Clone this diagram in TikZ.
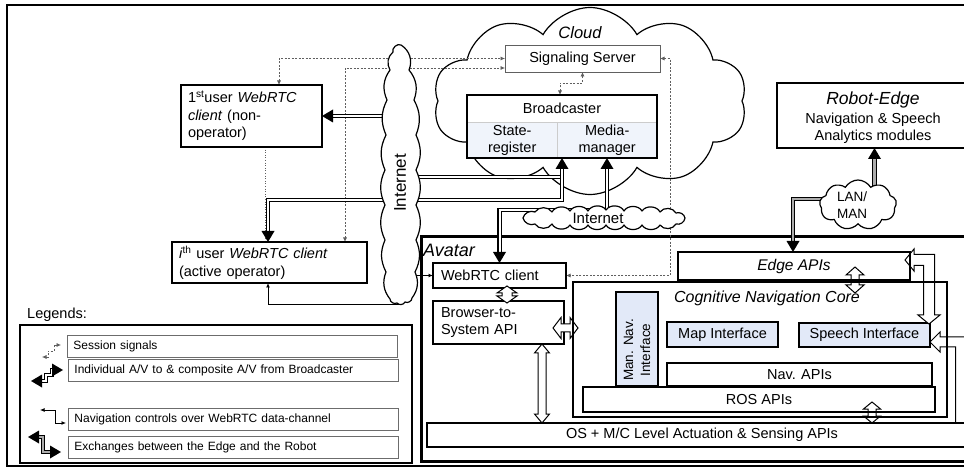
\documentclass[tikz,border=0pt]{standalone}
\usepackage{fontspec}
\setmainfont{Liberation Sans}
\usetikzlibrary{shapes.symbols,arrows.meta,calc}
\pgfdeclarelayer{back}
\pgfdeclarelayer{mid}
\pgfsetlayers{back,mid,main}
\definecolor{lb}{RGB}{226,233,248}
\definecolor{lb2}{RGB}{240,244,251}
\definecolor{sg}{RGB}{95,95,95}
\newcommand\fsz[2]{\fontsize{#1}{#2}\selectfont}
\tikzset{
  stip/.tip={Latex[length=4.5pt,width=4pt]},
  box/.style={draw, line width=#1, fill=white, inner sep=0pt, outer sep=0pt, anchor=north west, align=center, font=\fsz{14.5}{17.5}},
  box/.default=1.2pt,
  lrow/.style={draw=gray!85!black, line width=0.9pt, fill=white, anchor=north west, minimum height=21.5pt, text width=318pt, inner xsep=6pt, inner ysep=0pt, align=left, font=\fsz{12}{14}},
  sigl/.style={line width=0.7pt, color=sg, dash pattern=on 2pt off 1.5pt},
  dotl/.style={line width=0.8pt, color=sg, dash pattern=on 0.8pt off 1.8pt},
  avl/.style={line width=1.1pt, double=white, double distance=2pt},
  edgl/.style={line width=1.1pt, double=gray!65, double distance=2.4pt},
  navl/.style={line width=0.9pt},
  holl/.style={line width=1pt, fill=white, line join=miter},
  cloudsh/.style={cloud, draw, fill=white, line width=1.2pt, cloud ignores aspect, inner sep=0pt},
  pics/bhead/.style={code={\fill (0,0) -- (-11,6.5) -- (-11,-6.5) -- cycle;}},
  pics/hdbl/.style n args={4}{code={
     \draw[holl] (0,0) -- ({#2},{#3}) -- ({#2},{#4}) -- ({#1-#2},{#4}) -- ({#1-#2},{#3}) -- ({#1},0)
       -- ({#1-#2},{-#3}) -- ({#1-#2},{-#4}) -- ({#2},{-#4}) -- ({#2},{-#3}) -- cycle;}},
}
\begin{document}
\begin{tikzpicture}[x=1pt,y=-1pt, every node/.append style={inner sep=0pt}]
\useasboundingbox (0,0) rectangle (964,470);
\begin{pgfonlayer}{back}
\draw[line width=2pt] (7,5) rectangle (990,466);
\node[cloudsh, cloud puffs=10, cloud puff arc=120, minimum width=314pt, minimum height=187pt] (cloud) at (590,101) {};
\node[box=3pt, minimum width=570pt, minimum height=224pt] (avatar) at (421,237) {};
\end{pgfonlayer}

% titles
\node[font=\fsz{16.5}{20}\itshape] (cloudt) at (580,33) {Cloud};
\node[anchor=west, font=\fsz{18}{21}\itshape] (avt) at (423,250) {Avatar};

% legend
\node[box=2pt, minimum width=392pt, minimum height=138pt] (legend) at (20,325) {};
\node[anchor=west, font=\fsz{14.5}{17}] (legt) at (27,315) {Legends:};
\node[lrow] (lr1) at (67,335) {Session signals};
\node[lrow] (lr2) at (68,359) {Individual A/V to \& composite A/V from Broadcaster};
\node[lrow] (lr3) at (68,408) {Navigation controls over WebRTC data-channel};
\node[lrow] (lr4) at (68,436) {Exchanges between the Edge and the Robot};

% avatar content
\node[box, minimum width=133pt, minimum height=25pt, text width=117pt, inner xsep=8pt, align=left] (web) at (433,263) {WebRTC client};
\node[box, minimum height=43pt, text width=115pt, inner xsep=8pt, align=left] (b2s) at (433,301) {Browser-to-\\System API};
\node[box, minimum width=550pt, minimum height=24pt] (os) at (427,423) {OS + M/C Level Actuation \& Sensing APIs};
\node[box=2.5pt, minimum width=374pt, minimum height=135pt] (core) at (573,282) {};
\node[font=\fsz{16}{19}\itshape] (coret) at (767,298) {Cognitive Navigation Core};
\node[box, minimum width=232pt, minimum height=28pt, font=\fsz{15.5}{18}\itshape] (edge) at (678,252) {Edge APIs};
\node[box, fill=lb, minimum width=42pt, minimum height=94pt] (mannav) at (616,292) {};
\node[rotate=90, font=\fsz{13.5}{17}, align=center] (mannavt) at (637,350) {Man. Nav.\\Interface};
\node[box, fill=lb, minimum width=111pt, minimum height=25pt] (map) at (667,322) {Map Interface};
\node[box, fill=lb, minimum width=131pt, minimum height=24pt] (speech) at (799,323) {Speech Interface};
\node[box, minimum width=265pt, minimum height=23pt] (nav) at (667,363) {Nav. APIs};
\node[box, minimum width=352pt, minimum height=25pt] (ros) at (583,387) {ROS APIs};

% clouds
\node[minimum width=36pt, minimum height=258pt] (inet) at (400,175) {};
\draw[line width=1.2pt, fill=white, line join=round]
 (401,45) to[bend left=40] (409,70) to[bend left=30] (414,100) to[bend left=25] (416,135)
 to[bend left=25] (416,170) to[bend left=25] (416,205) to[bend left=25] (416,240)
 to[bend left=25] (415,272) to[bend left=30] (412,298) to[bend left=60] (405,302)
 to[bend left=60] (397,303) to[bend left=60] (390,299) to[bend left=30] (386,272)
 to[bend left=25] (385,240) to[bend left=25] (385,205) to[bend left=25] (385,170)
 to[bend left=25] (386,135) to[bend left=25] (387,100) to[bend left=30] (390,70)
 to[bend left=40] (393,52) to[bend left=70] (401,45) -- cycle;
\node[rotate=90, font=\fsz{17}{20}] (inett) at (400,183) {Internet};
\node[minimum width=162pt, minimum height=22pt] (inet2) at (604,217) {};
\draw[line width=1.2pt, fill=white, line join=round]
 (523,218) to[bend left=50] (535,212) to[bend left=60] (552,212) to[bend left=60] (570,211)
 to[bend left=60] (588,211) to[bend left=60] (606,210) to[bend left=60] (624,211)
 to[bend left=60] (642,211) to[bend left=60] (660,212) to[bend left=60] (676,213)
 to[bend left=50] (685,218) to[bend left=50] (676,224) to[bend left=60] (660,225)
 to[bend left=60] (642,225) to[bend left=60] (624,225) to[bend left=60] (606,225)
 to[bend left=60] (588,225) to[bend left=60] (570,225) to[bend left=60] (552,224)
 to[bend left=60] (535,224) to[bend left=50] (523,218) -- cycle;
\node[font=\fsz{15}{18}] (inet2t) at (598,218) {Internet};
\node[cloudsh, cloud puffs=9, cloud puff arc=120, minimum width=77pt, minimum height=50pt] (lan) at (858,205) {};
\node[align=center, font=\fsz{13.5}{17}] (lant) at (852,205) {LAN/\\MAN};

% clients, cloud boxes, robot
\node[box=1.5pt, minimum width=141pt, minimum height=62pt, text width=127pt, inner xsep=7pt, align=left] (user1) at (181,85) {1\textsuperscript{st}user \textit{WebRTC}\\\textit{client} (non-\\operator)};
\node[box=1.5pt, minimum height=41pt, text width=181pt, inner xsep=7pt, align=left] (useri) at (172,242) {\textit{i}\textsuperscript{th} user \textit{WebRTC client}\\(active operator)};
\node[box=0.9pt, draw=gray!75!black, minimum width=155pt, minimum height=27pt] (sig) at (505,45) {Signaling Server};
\node[box=2pt, minimum width=190pt, minimum height=63pt] (bc) at (467,95) {};
\node[anchor=north west, draw=gray!40, fill=lb2, minimum width=90pt, minimum height=36pt, align=center, font=\fsz{14.5}{17.5}] (sreg) at (467,122) {State-\\register};
\node[anchor=north west, draw=gray!40, fill=lb2, minimum width=100pt, minimum height=36pt, align=center, font=\fsz{14.5}{17.5}] (mman) at (557,122) {Media-\\manager};
\draw[line width=2pt] (bc.north west) rectangle (bc.south east);
\node[font=\fsz{14.5}{17.5}] (bct) at (562,108) {Broadcaster};
\node[box=2.5pt, minimum width=195pt, minimum height=65pt] (robot) at (777,83) {};
\node[font=\fsz{17.5}{20}\itshape] (rt1) at (873,100) {Robot-Edge};
\node[font=\fsz{14.5}{17}] (rt2) at (873,120) {Navigation \& Speech};
\node[font=\fsz{14.5}{17}] (rt3) at (873,137) {Analytics modules};

% connectors
\begin{pgfonlayer}{mid}
\draw[sigl, stip-stip] ([xshift=27.5pt]user1.north) |- (sig.west);
\draw[sigl, stip-stip] ([xshift=75.5pt]useri.north) |- ([yshift=-9.5pt]sig.west);
\draw[sigl, stip-stip] (sig.east) -- ++(10,0) |- (web.east);
\draw[sigl, stip-stip] ([xshift=-2pt]bc.north) -- ++(0,-12) -| (sig.south);
\coordinate (d1) at ([xshift=13.5pt]user1.south);
\draw[dotl] (d1) -- (d1 |- useri.north);
\coordinate (j1) at (562,177);
\coordinate (j2) at (562,200);
\coordinate (mm) at ([xshift=45pt]bc.south);
\draw[avl, shorten >=10pt] (user1.east -| inet.center) -- (user1.east);
\draw[avl] (inet.center |- j1) -- (j1);
\draw[avl, shorten <=10pt, shorten >=10pt] ([xshift=-1.5pt]useri.north) |- (j2) -- (bc.south);
\draw[avl, shorten >=10pt] (mm |- inet2.center) -- (mm);
\draw[avl, shorten >=10pt] ([yshift=7pt]inet2.center) -| (web.north);
\draw[edgl, shorten >=10pt] (robot.south |- lan.center) -- (robot.south);
\draw[edgl, shorten >=10pt] ([yshift=6pt]lan.center) -| ([xshift=-1pt]edge.north);
\draw[navl, -stip] (inet.south) -| ([xshift=-1.5pt]useri.south);
\draw[navl, -stip] (web.west -| inet.center) -- (web.west);
\end{pgfonlayer}
\pic[rotate=180] at (user1.east) {bhead};
\pic[rotate=90] at (bc.south) {bhead};
\pic[rotate=-90] at ([xshift=-1.5pt]useri.north) {bhead};
\pic[rotate=90] at (mm) {bhead};
\pic[rotate=-90] at (web.north) {bhead};
\pic[rotate=90] at (robot.south) {bhead};
\pic[rotate=-90] at ([xshift=-1pt]edge.north) {bhead};

% hollow arrows
\coordinate (h1a) at ([xshift=7.5pt,yshift=2pt]web.south);
\pic[rotate=-90] at (h1a) {hdbl={17}{7}{10}{5}};
\coordinate (h2a) at ([xshift=-11pt,yshift=-5.5pt]b2s.east);
\pic at (h2a) {hdbl={25}{8}{10.5}{4}};
\coordinate (h3a) at ([xshift=43.5pt]b2s.south);
\pic[rotate=-90] at (h3a) {hdbl={79}{9}{7.5}{4}};
\coordinate (h4a) at ([xshift=61pt,yshift=13pt]edge.south);
\pic[rotate=-90] at (h4a) {hdbl={26}{8}{9}{4}};
\coordinate (h5a) at ([xshift=113pt,yshift=10pt]ros.south);
\pic[rotate=-90] at (h5a) {hdbl={21}{7}{8.5}{4}};
\draw[holl] (905,260) -- (914,249) -- (914,254.5) -- (934.5,254.5) -- (934.5,315) -- (940,315) -- (929,324)
  -- (918,315) -- (923.5,315) -- (923.5,265.5) -- (914,265.5) -- (914,271) -- cycle;
\draw[holl] (930,342) -- (940,332) -- (940,337) -- (964.5,337) -- (964.5,423) -- (955.5,423) -- (955.5,347)
  -- (940,347) -- (940,352) -- cycle;

% re-stroke borders
\draw[line width=2.5pt] (core.north west) rectangle (core.south east);
\draw[line width=1.2pt] (edge.north west) rectangle (edge.south east);
\draw[line width=1.2pt] (ros.north west) rectangle (ros.south east);
\draw[line width=1.2pt] (os.north west) rectangle (os.south east);

% legend icons
\draw[sigl, stip-stip] (42,357) -- (48,357) -- (48,351) -- (54,351) -- (54,345) -- (61,345);
\draw[avl, shorten <=9pt, shorten >=9pt] (31,381) -- (46,381) -- (46,375) -- (52,375) -- (52,370) -- (63,370);
\pic[rotate=180] at (31,381) {bhead};
\pic at (63,370) {bhead};
\draw[navl, stip-stip] (40,410) -- (55,410) -- (55,423) -- (66,423);
\draw[edgl, shorten <=9pt, shorten >=9pt] (28,437) -- (43,437) -- (43,452) -- (61,452);
\pic[rotate=180] at (28,437) {bhead};
\pic at (61,452) {bhead};
\end{tikzpicture}
\end{document}
